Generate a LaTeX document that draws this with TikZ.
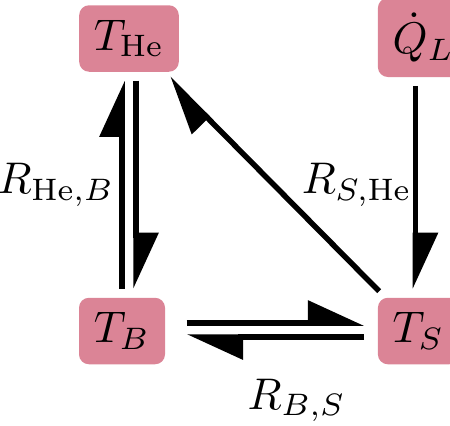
\documentclass[tikz,border=0pt]{standalone}
\usepackage{amsmath}
\usepackage{xcolor}
\usepackage{tikz}
\usetikzlibrary{arrows.meta,calc}
\definecolor{pinkbox}{HTML}{DB8496}
\tikzset{
  tnode/.style={fill=pinkbox,rounded corners=2.25pt},
  flow/.style={->,line width=1.24pt,shorten >=1.8pt,shorten <=1.8pt},
  rlabel/.style={inner sep=1.1pt}
}

\begin{document}
\begin{tikzpicture}[x=0.2255pt,y=-0.2255pt,>={Triangle[harpoon,length=11.3pt,width=10pt]}]
  \useasboundingbox (0,0) rectangle (450,425);
  \node[tnode] (THe) at (129,38.5) {$T_{\mathrm{He}}$};
  \node[tnode,anchor=west] (QL) at (377,37.5) {$\dot{Q}_L$};
  \node[tnode] (TB) at (122,331) {$T_B$};
  \node[tnode,anchor=west] (TS) at (377,331) {$T_S$};
  % helium <-> B
  \draw[flow] ($(TB.north -| THe.south)+(-7,0)$) -- ($(THe.south)+(-7,0)$)
    node[midway,left,rlabel] {$R_{\mathrm{He},B}$};
  \draw[flow] ($(THe.south)+(7,0)$) -- ($(TB.north -| THe.south)+(7,0)$);
  % B <-> S
  \draw[flow,shorten <=4.7pt,shorten >=2.9pt] ($(TB.east)+(0,-8)$) -- ($(TS.west)+(0,-8)$);
  \draw[flow,shorten <=2.9pt,shorten >=4.7pt] ($(TS.west)+(0,6)$) -- ($(TB.east)+(0,6)$)
    node[pos=0.38,below=7.7pt,rlabel] {$R_{B,S}$};
  % S -> helium, load
  \draw[flow] (TS) -- (THe)
    node[midway,right=4.6pt,rlabel] {$R_{S,\mathrm{He}}$};
  \draw[flow] ($(TS.north |- QL.south)+(-3,0)$) -- ($(TS.north)+(-3,0)$);
\end{tikzpicture}
\end{document}
